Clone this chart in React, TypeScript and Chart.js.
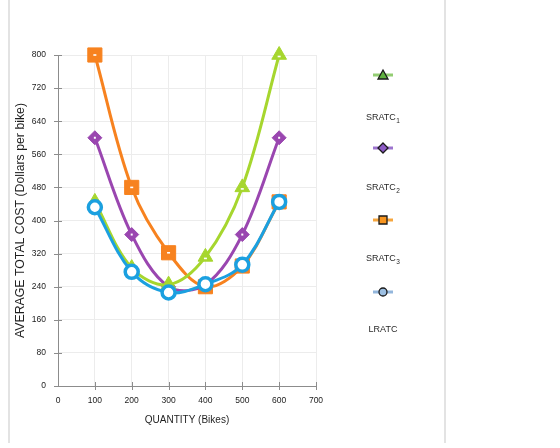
import React, { useEffect, useRef } from "react";
import { Chart, registerables } from "chart.js";

Chart.register(...registerables);

// Quantity of bikes (x) and average total cost per bike (y)
const quantities = [100, 200, 300, 400, 500, 600];
const sratc1 = [445, 285, 245, 312, 480, 800];
const sratc2 = [600, 366, 240, 245, 366, 600];
const sratc3 = [800, 480, 322, 240, 290, 445];
const lratc = [432, 276, 226, 246, 293, 445];

const seriesNames = ["SRATC", "SRATC", "SRATC", "LRATC"];
const seriesSubs = ["1", "2", "3", ""];

const xTitle = "QUANTITY (Bikes)";
const yTitle = "AVERAGE TOTAL COST (Dollars per bike)";

const FONT = "'Liberation Sans', Arial, sans-serif";

const lineColors = ["#a6d62e", "#9a46b0", "#f7821f", "#1ba0e0"];
const legendLine = ["#93cd72", "#9d74cf", "#f6a63e", "#93b6dc"];
const legendFill = ["#5fb13f", "#8d5bc6", "#f7941e", "#9cbfe2"];
const legendShape = ["triangle", "rectRot", "rect", "circle"];

const toPoints = (ys: number[]) => quantities.map((q, i) => ({ x: q, y: ys[i] }));

// white page, side rules, straddling tick marks, marker highlights and legend
const decorPlugin = {
  id: "decor",
  beforeDraw(chart: any) {
    const ctx = chart.ctx;
    ctx.save();
    ctx.fillStyle = "#ffffff";
    ctx.fillRect(0, 0, chart.width, chart.height);
    ctx.strokeStyle = "#e3e3e3";
    ctx.lineWidth = 2;
    ctx.beginPath();
    ctx.moveTo(9, 0);
    ctx.lineTo(9, 443);
    ctx.moveTo(445, 0);
    ctx.lineTo(445, 443);
    ctx.stroke();
    ctx.restore();
  },
  beforeDatasetsDraw(chart: any) {
    const ctx = chart.ctx;
    const xs = chart.scales.x;
    const ys = chart.scales.y;
    ctx.save();
    ctx.strokeStyle = "#8c8c8c";
    ctx.lineWidth = 1;
    ctx.beginPath();
    xs.ticks.forEach((t: any) => {
      if (t.value === 0) return;
      const px = Math.round(xs.getPixelForValue(t.value)) + 0.5;
      ctx.moveTo(px, ys.bottom - 4);
      ctx.lineTo(px, ys.bottom + 4);
    });
    ys.ticks.forEach((t: any) => {
      const py = Math.round(ys.getPixelForValue(t.value)) + 0.5;
      ctx.moveTo(xs.left - 4, py);
      ctx.lineTo(xs.left + 4, py);
    });
    ctx.stroke();
    ctx.restore();
  },
  afterDatasetDraw(chart: any, args: any) {
    // small white highlight in the middle of filled markers
    const ds = chart.data.datasets[args.index];
    if (ds.pointStyle === "circle") return;
    const ctx = chart.ctx;
    ctx.save();
    ctx.fillStyle = "#ffffff";
    args.meta.data.forEach((pt: any) => {
      if (ds.pointStyle === "rectRot") {
        ctx.fillRect(pt.x - 1, pt.y - 1, 2, 2);
      } else {
        const dy = ds.pointStyle === "triangle" ? 1.5 : 0;
        ctx.fillRect(pt.x - 1.5, pt.y - 0.8 + dy, 3, 1.6);
      }
    });
    ctx.restore();
  },
  afterDraw(chart: any) {
    const ctx = chart.ctx;
    const cx = 383;
    const iconY = [75, 148, 220, 292];
    const textY = [118, 188, 259, 330];
    ctx.save();
    seriesNames.forEach((name, i) => {
      ctx.strokeStyle = legendLine[i];
      ctx.lineWidth = 3;
      ctx.beginPath();
      ctx.moveTo(cx - 10, iconY[i]);
      ctx.lineTo(cx + 10, iconY[i]);
      ctx.stroke();
      ctx.lineWidth = 1.3;
      ctx.strokeStyle = "#1a1a1a";
      ctx.fillStyle = legendFill[i];
      ctx.beginPath();
      const y = iconY[i];
      const s = legendShape[i];
      if (s === "triangle") {
        ctx.moveTo(cx, y - 5);
        ctx.lineTo(cx + 5, y + 4);
        ctx.lineTo(cx - 5, y + 4);
        ctx.closePath();
      } else if (s === "rectRot") {
        ctx.moveTo(cx, y - 5);
        ctx.lineTo(cx + 5, y);
        ctx.lineTo(cx, y + 5);
        ctx.lineTo(cx - 5, y);
        ctx.closePath();
      } else if (s === "rect") {
        ctx.rect(cx - 4, y - 4, 8, 8);
      } else {
        ctx.arc(cx, y, 4, 0, Math.PI * 2);
      }
      ctx.fill();
      ctx.stroke();

      // label with subscript
      ctx.fillStyle = "#2a2a2a";
      ctx.font = `9px ${FONT}`;
      ctx.textBaseline = "middle";
      const mainW = ctx.measureText(name).width;
      ctx.font = `6.5px ${FONT}`;
      const subW = seriesSubs[i] ? ctx.measureText(seriesSubs[i]).width + 0.5 : 0;
      const start = cx - (mainW + subW) / 2;
      ctx.font = `9px ${FONT}`;
      ctx.textAlign = "left";
      ctx.fillText(name, start, textY[i]);
      if (seriesSubs[i]) {
        ctx.font = `6.5px ${FONT}`;
        ctx.fillText(seriesSubs[i], start + mainW + 0.5, textY[i] + 3);
      }
    });
    ctx.restore();
  },
};

export default function App() {
  const ref = useRef<HTMLCanvasElement | null>(null);

  useEffect(() => {
    if (!ref.current) return;
    const mk = (data: number[], i: number, style: string, radius: number, order: number, extra: any = {}) => ({
      label: seriesNames[i] + seriesSubs[i],
      data: toPoints(data),
      borderColor: lineColors[i],
      backgroundColor: lineColors[i],
      borderWidth: 3,
      tension: 0.35,
      pointStyle: style,
      pointRadius: radius,
      pointBorderColor: lineColors[i],
      pointBackgroundColor: lineColors[i],
      pointBorderWidth: 1,
      clip: false,
      order,
      ...extra,
    });

    const chart = new Chart(ref.current, {
      type: "line",
      data: {
        datasets: [
          mk(sratc1, 0, "triangle", 8.5, 1),
          mk(sratc2, 1, "rectRot", 7, 2),
          mk(sratc3, 2, "rect", 10, 3),
          mk(lratc, 3, "circle", 6.5, 0, {
            pointBackgroundColor: "#ffffff",
            pointBorderWidth: 3.5,
          }),
        ],
      },
      options: {
        responsive: false,
        animation: false,
        layout: { padding: { top: 55, right: 244, left: 0, bottom: 0 } },
        plugins: {
          legend: { display: false },
          tooltip: { enabled: false },
        },
        scales: {
          x: {
            type: "linear",
            min: 0,
            max: 700,
            afterFit: (s: any) => {
              s.height = 62;
            },
            ticks: {
              stepSize: 100,
              padding: 10,
              color: "#222222",
              font: { family: FONT, size: 8.5 },
            },
            grid: { color: "#ececec", drawTicks: false },
            border: { color: "#8c8c8c", width: 1 },
            title: {
              display: true,
              text: xTitle,
              color: "#1f1f1f",
              font: { family: FONT, size: 10 },
              padding: { top: 0, bottom: 22 },
            },
          },
          y: {
            type: "linear",
            min: 0,
            max: 800,
            afterFit: (s: any) => {
              s.width = 58;
            },
            ticks: {
              stepSize: 80,
              padding: 12,
              color: "#222222",
              font: { family: FONT, size: 8.5 },
            },
            grid: { color: "#ececec", drawTicks: false },
            border: { color: "#8c8c8c", width: 1 },
            title: {
              display: true,
              text: yTitle,
              color: "#1f1f1f",
              font: { family: FONT, size: 12.3 },
              padding: { top: 13, bottom: 0 },
            },
          },
        },
      },
      plugins: [decorPlugin],
    } as any);

    return () => chart.destroy();
  }, []);

  return (
    <div style={{ position: "fixed", left: 0, top: 0, width: 560, height: 448, background: "#fff" }}>
      <canvas ref={ref} width={560} height={448} style={{ display: "block" }} />
    </div>
  );
}
